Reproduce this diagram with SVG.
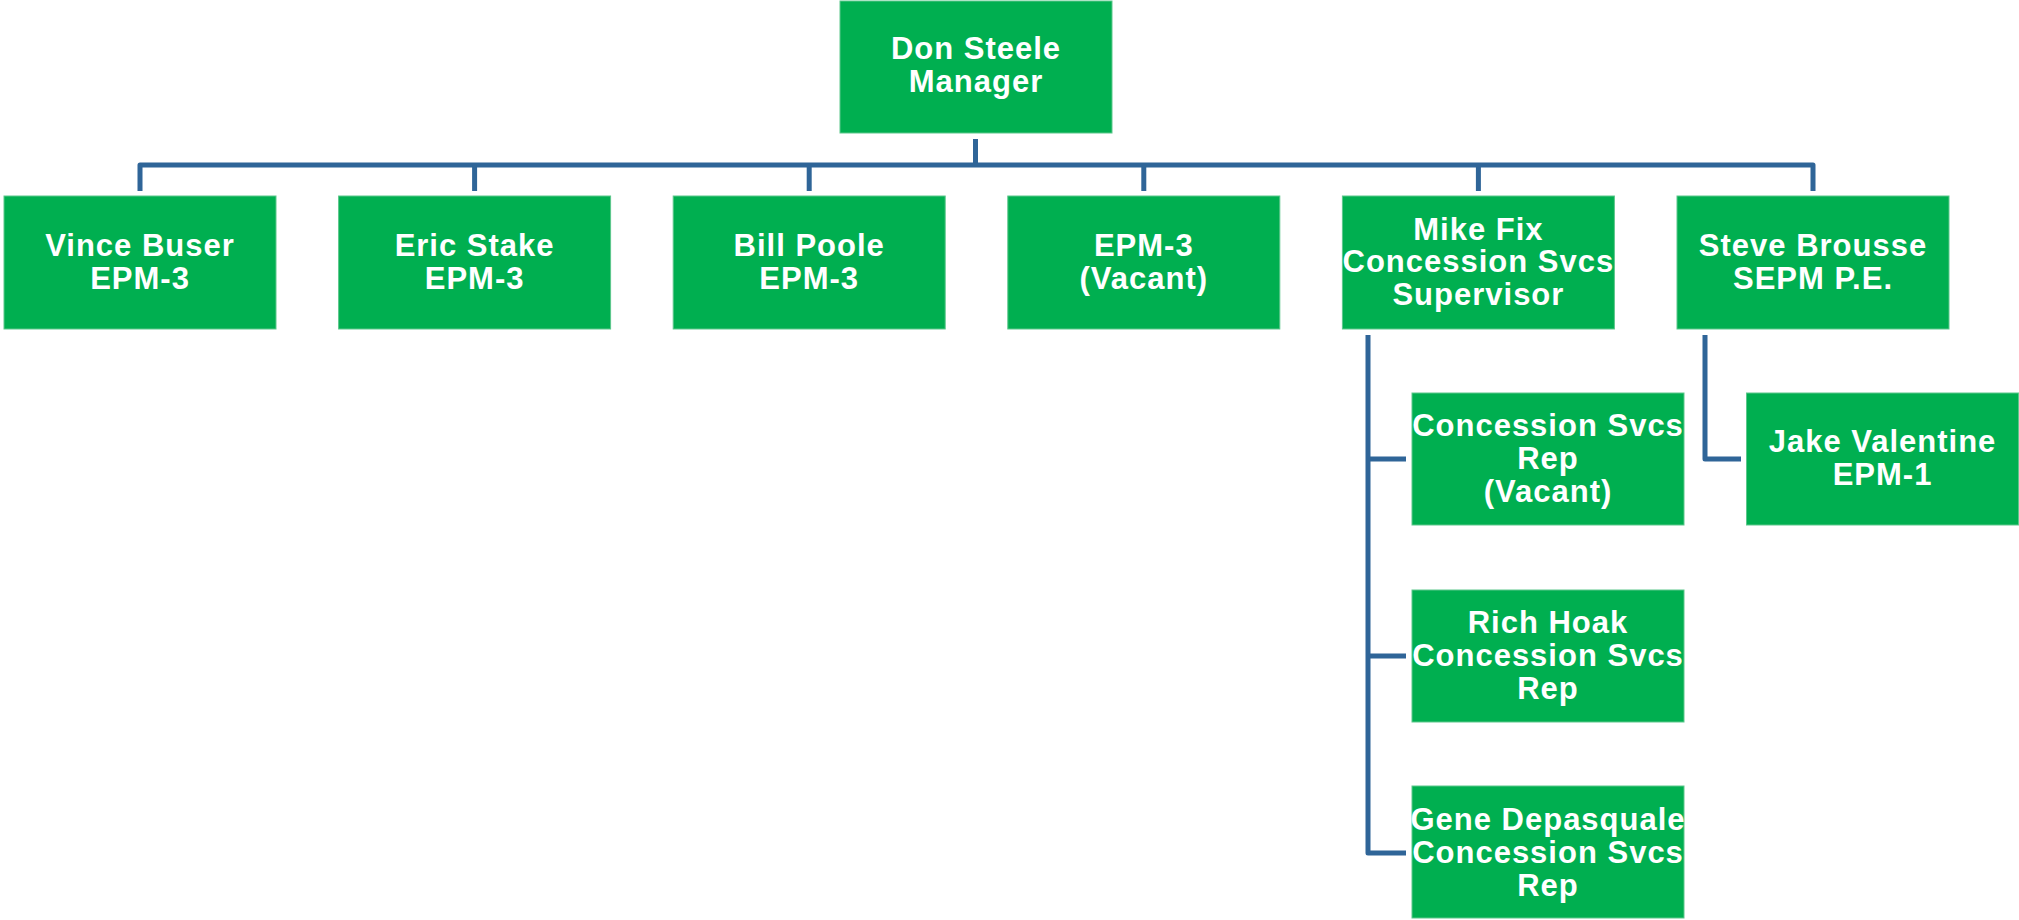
<svg xmlns="http://www.w3.org/2000/svg" width="2019" height="920" viewBox="0 0 2019 920">
<style>
.box{fill:#00AF50;stroke:#5CC78B;stroke-width:1}
.t{font-family:"Liberation Sans",Arial,sans-serif;font-weight:bold;font-size:31px;fill:#fff;text-anchor:middle;letter-spacing:1px}
.c{fill:none;stroke:#2F6598;stroke-width:5;stroke-linejoin:round}
</style>
<rect width="2019" height="920" fill="#fff"/>
<g id="connectors">
<path class="c" d="M975.5,139 V165"/>
<path class="c" d="M140,191 V165 H1813 V191"/>
<path class="c" d="M474.6,165 V191 M809.2,165 V191 M1143.8,165 V191 M1478.4,165 V191"/>
<path class="c" d="M1368,335 V853 H1406 M1368,459 H1406 M1368,656 H1406"/>
<path class="c" d="M1705,335 V459 H1741"/>
</g>
<g id="don-steele"><rect class="box" x="840" y="1" width="272" height="132"/><text class="t" x="976" y="59">Don Steele</text><text class="t" x="976" y="92">Manager</text></g>
<g id="vince-buser"><rect class="box" x="4" y="196" width="272" height="133"/><text class="t" x="140" y="256">Vince Buser</text><text class="t" x="140" y="289">EPM-3</text></g>
<g id="eric-stake"><rect class="box" x="338.6" y="196" width="272" height="133"/><text class="t" x="474.6" y="256">Eric Stake</text><text class="t" x="474.6" y="289">EPM-3</text></g>
<g id="bill-poole"><rect class="box" x="673.2" y="196" width="272" height="133"/><text class="t" x="809.2" y="256">Bill Poole</text><text class="t" x="809.2" y="289">EPM-3</text></g>
<g id="epm3-vacant"><rect class="box" x="1007.8" y="196" width="272" height="133"/><text class="t" x="1143.8" y="256">EPM-3</text><text class="t" x="1143.8" y="289">(Vacant)</text></g>
<g id="mike-fix"><rect class="box" x="1342.4" y="196" width="272" height="133"/><text class="t" x="1478.4" y="240">Mike Fix</text><text class="t" x="1478.4" y="272">Concession Svcs</text><text class="t" x="1478.4" y="305">Supervisor</text></g>
<g id="steve-brousse"><rect class="box" x="1677" y="196" width="272" height="133"/><text class="t" x="1813" y="256">Steve Brousse</text><text class="t" x="1813" y="289">SEPM P.E.</text></g>
<g id="concession-rep-vacant"><rect class="box" x="1412" y="393" width="272" height="132"/><text class="t" x="1548" y="436">Concession Svcs</text><text class="t" x="1548" y="469">Rep</text><text class="t" x="1548" y="502">(Vacant)</text></g>
<g id="rich-hoak"><rect class="box" x="1412" y="590" width="272" height="132"/><text class="t" x="1548" y="633">Rich Hoak</text><text class="t" x="1548" y="666">Concession Svcs</text><text class="t" x="1548" y="699">Rep</text></g>
<g id="gene-depasquale"><rect class="box" x="1412" y="786" width="272" height="132"/><text class="t" x="1548" y="830">Gene Depasquale</text><text class="t" x="1548" y="863">Concession Svcs</text><text class="t" x="1548" y="896">Rep</text></g>
<g id="jake-valentine"><rect class="box" x="1746.5" y="393" width="272" height="132"/><text class="t" x="1882.5" y="452">Jake Valentine</text><text class="t" x="1882.5" y="485">EPM-1</text></g>
</svg>
